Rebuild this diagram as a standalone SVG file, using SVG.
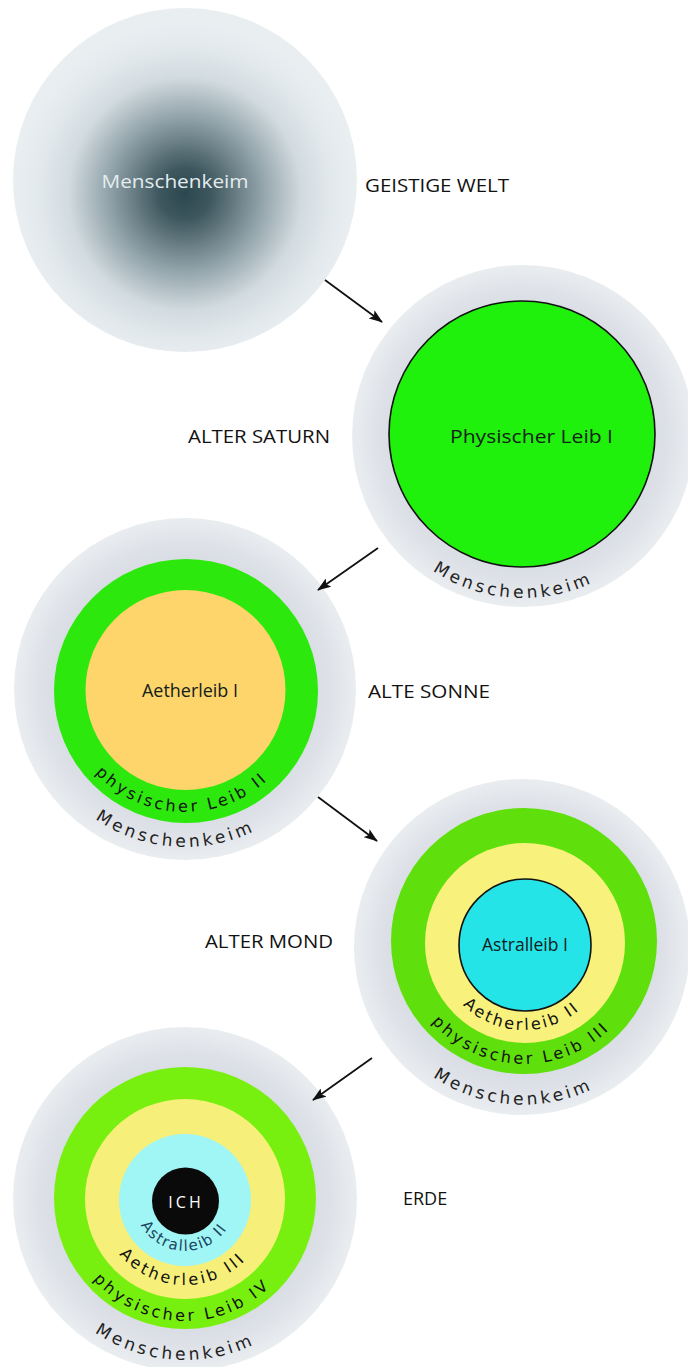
<svg xmlns="http://www.w3.org/2000/svg" width="688" height="1367" viewBox="0 0 688 1367">
<style>
.lbl{font-family:"Open Sans","Liberation Sans",sans-serif;font-size:18px;fill:#111111}
.in{font-family:"Open Sans","Liberation Sans",sans-serif;font-size:18px;fill:#14201a}
.arc{font-family:"DejaVu Sans","Liberation Sans",sans-serif;font-size:16px;fill:#111111;letter-spacing:3px}
.mk{font-size:17px;fill:#222222;letter-spacing:3.5px}
.conn{stroke:#111;stroke-width:1.8;fill:none}
.ring{fill:url(#ringG)}
.edge{stroke:#111;stroke-width:1.6}
</style>
<defs>
<radialGradient id="ringG" cx="0.5" cy="0.5" r="0.5">
<stop offset="0.7" stop-color="#d6dae1"/>
<stop offset="0.85" stop-color="#dee2e8"/>
<stop offset="1" stop-color="#eaedf0"/>
</radialGradient>
<radialGradient id="seedG" cx="0.5" cy="0.54" r="0.5">
<stop offset="0" stop-color="#2c474f"/>
<stop offset="0.15" stop-color="#3e575e"/>
<stop offset="0.45" stop-color="#93a4ab"/>
<stop offset="0.68" stop-color="#d2dbe0"/>
<stop offset="0.85" stop-color="#e2e9ec"/>
<stop offset="1" stop-color="#e9eef1"/>
</radialGradient>
<marker id="ah" viewBox="0 0 14 10" refX="13" refY="5" markerWidth="14" markerHeight="10" orient="auto" markerUnits="userSpaceOnUse">
<path d="M0,0 L14,5 L0,10 L3,5 z" fill="#111"/>
</marker>
<path id="mk2" d="M360.40,424.63 A163,163 0 0 0 685.60,447.37"/>
<path id="mk3" d="M28.38,679.05 A157,157 0 0 0 341.62,700.95"/>
<path id="mk4" d="M363.39,933.84 A160,160 0 0 0 682.61,956.16"/>
<path id="mk5" d="M24.39,1187.77 A161,161 0 0 0 345.61,1210.23"/>
<path id="ph3" d="M62.08,685.71 A123,123 0 0 0 307.92,694.29"/>
<path id="ph4" d="M401.08,937.71 A123,123 0 0 0 646.92,946.29"/>
<path id="ph5" d="M63.07,1194.74 A122,122 0 0 0 306.93,1203.26"/>
<path id="ae4" d="M437.05,939.96 A87,87 0 0 0 610.95,946.04"/>
<path id="ae5" d="M99.05,1196.0 A86,86 0 0 0 270.95,1202.0"/>
<path id="as5" d="M134.03,1198.22 A51,51 0 0 0 235.97,1201.78"/>
</defs>
<rect width="688" height="1367" fill="#ffffff"/>

<g id="geistige-welt">
<circle cx="185" cy="180" r="172" fill="url(#seedG)"/>
<text x="175" y="188" text-anchor="middle" font-family="Open Sans, Liberation Sans, sans-serif" font-size="19" fill="#e4ecef" textLength="147" lengthAdjust="spacingAndGlyphs">Menschenkeim</text>
<text class="lbl" x="365" y="192" textLength="144" lengthAdjust="spacingAndGlyphs">GEISTIGE WELT</text>
</g>

<g id="alter-saturn">
<circle class="ring" cx="523" cy="436" r="171"/>
<circle class="edge" cx="522" cy="434" r="133" fill="#1ff00c"/>
<text class="in" x="450" y="443" font-size="19" textLength="163" lengthAdjust="spacingAndGlyphs">Physischer Leib I</text>
<text class="arc mk"><textPath href="#mk2" startOffset="50%" text-anchor="middle">Menschenkeim</textPath></text>
<text class="lbl" x="188" y="443" textLength="142" lengthAdjust="spacingAndGlyphs">ALTER SATURN</text>
</g>

<g id="alte-sonne">
<circle class="ring" cx="185" cy="689" r="171"/>
<circle cx="186" cy="691" r="132" fill="#2ce80d"/>
<circle cx="185.5" cy="690" r="100" fill="#fdd56b"/>
<text class="in" x="190" y="697" text-anchor="middle" textLength="96" lengthAdjust="spacingAndGlyphs">Aetherleib I</text>
<text class="arc"><textPath href="#ph3" startOffset="50%" text-anchor="middle">physischer Leib II</textPath></text>
<text class="arc mk"><textPath href="#mk3" startOffset="50%" text-anchor="middle">Menschenkeim</textPath></text>
<text class="lbl" x="368" y="698" textLength="122" lengthAdjust="spacingAndGlyphs">ALTE SONNE</text>
</g>

<g id="alter-mond">
<circle class="ring" cx="522" cy="947" r="168"/>
<circle cx="524" cy="941" r="133" fill="#5fdf0b"/>
<circle cx="525" cy="943" r="100" fill="#f8f27c"/>
<circle class="edge" cx="525" cy="945" r="66" fill="#25e4e8"/>
<text class="in" x="525" y="951" text-anchor="middle" textLength="86" lengthAdjust="spacingAndGlyphs">Astralleib I</text>
<text class="arc" style="letter-spacing:2.5px"><textPath href="#ae4" startOffset="50%" text-anchor="middle">Aetherleib II</textPath></text>
<text class="arc"><textPath href="#ph4" startOffset="50%" text-anchor="middle">physischer Leib III</textPath></text>
<text class="arc mk"><textPath href="#mk4" startOffset="50%" text-anchor="middle">Menschenkeim</textPath></text>
<text class="lbl" x="205" y="948" textLength="128" lengthAdjust="spacingAndGlyphs">ALTER MOND</text>
</g>

<g id="erde">
<circle class="ring" cx="185" cy="1199" r="172"/>
<circle cx="185" cy="1198" r="131" fill="#78f00f"/>
<circle cx="185" cy="1199" r="100" fill="#f6f07a"/>
<circle cx="185" cy="1200" r="66" fill="#a0f5f5"/>
<circle cx="185.5" cy="1201" r="33.5" fill="#0a0a0a"/>
<text x="186" y="1208" text-anchor="middle" font-family="Open Sans, Liberation Sans, sans-serif" font-size="16" fill="#ffffff" letter-spacing="3">ICH</text>
<text class="arc" style="fill:#1d4560;font-size:15px;letter-spacing:1.5px"><textPath href="#as5" startOffset="50%" text-anchor="middle">Astralleib II</textPath></text>
<text class="arc"><textPath href="#ae5" startOffset="50%" text-anchor="middle">Aetherleib III</textPath></text>
<text class="arc"><textPath href="#ph5" startOffset="50%" text-anchor="middle">physischer Leib IV</textPath></text>
<text class="arc mk"><textPath href="#mk5" startOffset="50%" text-anchor="middle">Menschenkeim</textPath></text>
<text class="lbl" x="403" y="1205">ERDE</text>
</g>

<g id="connectors">
<line class="conn" x1="325" y1="280" x2="382" y2="322" marker-end="url(#ah)"/>
<line class="conn" x1="378" y1="548" x2="318" y2="590" marker-end="url(#ah)"/>
<line class="conn" x1="318" y1="797" x2="377" y2="841" marker-end="url(#ah)"/>
<line class="conn" x1="372" y1="1058" x2="313" y2="1100" marker-end="url(#ah)"/>
</g>
</svg>
